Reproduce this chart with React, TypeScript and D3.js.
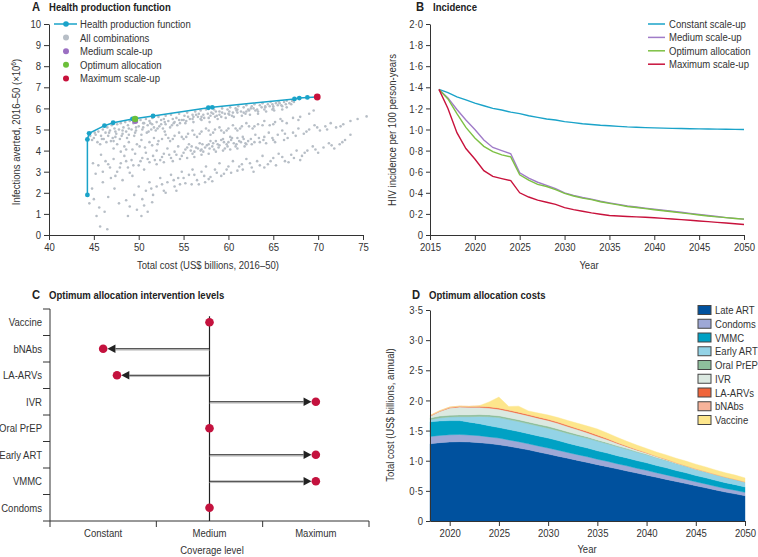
import React, { useEffect, useRef } from "react";
import * as d3 from "d3";

const FONT = "'Liberation Sans', Arial, sans-serif";
const INK = "#333333";
const SX = 0.83; // the journal face is narrow: squeeze glyphs horizontally
const FS = 11.5;

// ---------- A: health production function ----------
const frontierCost = [44.28, 44.28, 44.47, 46.18, 47.15, 49.3, 51.6, 57.76, 58.2, 67.36, 67.9, 68.8, 69.9];
const frontierAverted = [1.9, 4.53, 4.82, 5.18, 5.32, 5.5, 5.64, 6.03, 6.05, 6.45, 6.49, 6.52, 6.54];
const mediumPoint = [49.6, 5.4];
const optimumPoint = [49.6, 5.5];
const maximumPoint = [69.9, 6.54];
const costTicks = [40, 45, 50, 55, 60, 65, 70, 75];
const avertedTicks = [0, 1, 2, 3, 4, 5, 6, 7, 8, 9, 10];
const legendA = ["Health production function", "All combinations", "Medium scale-up", "Optimum allocation", "Maximum scale-up"];

// every scenario (cost, infections averted)
const allCombinations: [number, number][] = [
  [44.6,4.7],[44.8,4.5],[45.0,4.6],[45.2,4.75],[45.4,4.4],[45.5,4.9],[45.8,4.7],[46.0,5.0],[46.1,4.55],[46.3,4.85],
  [46.5,5.1],[46.6,4.7],[46.8,4.95],[47.0,5.2],[47.1,4.6],[47.3,5.05],[47.5,4.8],[47.6,5.25],[47.8,5.0],[48.0,5.3],
  [48.1,4.7],[48.3,5.1],[48.5,5.35],[48.6,4.9],[48.8,5.2],[49.0,5.4],[49.2,5.0],[49.4,5.3],[49.6,4.85],[49.8,5.35],
  [50.0,5.15],[50.2,5.45],[50.4,5.0],[50.6,5.3],[50.8,5.5],[51.0,5.2],[51.2,5.4],[51.5,5.55],[51.7,5.1],[52.0,5.35],
  [52.2,5.6],[52.5,5.25],[52.8,5.5],[53.0,5.65],[53.3,5.4],[53.6,5.7],[53.9,5.3],[54.2,5.55],[54.5,5.75],[54.8,5.45],
  [55.1,5.65],[55.4,5.8],[55.7,5.5],[56.0,5.7],[56.3,5.85],[56.6,5.6],[56.9,5.9],[57.2,5.7],[57.5,5.95],[57.8,5.55],
  [58.1,5.8],[58.4,5.95],[58.7,5.65],[59.0,5.85],[59.3,6.0],[59.6,5.75],[59.9,5.95],[60.2,6.05],[60.5,5.8],[60.8,6.0],
  [61.1,6.1],[61.4,5.85],[61.7,6.05],[62.0,6.15],[62.3,5.9],[62.6,6.1],[62.9,6.2],[63.2,5.95],[63.5,6.15],[63.8,6.25],
  [64.1,6.05],[64.4,6.2],[64.7,6.3],[65.0,6.1],[65.3,6.25],[65.6,6.33],[65.9,6.15],[66.2,6.3],[66.5,6.36],[66.8,6.25],[67.1,6.35],
  [45.7,4.3],[46.4,4.4],[47.2,4.45],[47.9,4.55],[48.7,4.6],[49.5,4.7],[50.3,4.75],[51.1,4.9],[51.9,4.95],[52.7,5.05],
  [53.5,5.1],[54.3,5.2],[55.2,5.3],[56.1,5.35],[57.0,5.45],[57.9,5.35],[58.8,5.5],[59.7,5.55],[60.6,5.6],[61.5,5.65],
  [62.4,5.7],[63.3,5.75],[64.2,5.85],[65.1,5.9],[66.0,5.95],[53.0,5.25],[54.0,5.35],[55.0,5.45],[56.0,5.5],[57.0,5.6],
  [58.0,5.65],[59.0,5.7],[60.0,5.75],[61.0,5.8],[62.0,5.85],[63.0,5.9],[64.0,5.95],[65.0,6.0],[66.0,6.1],[67.0,6.2],
  [50.5,5.3],[51.5,5.25],[52.5,5.45],
  [46.9,4.45],[47.4,4.9],[48.2,4.95],[48.9,4.75],[49.7,5.1],[50.9,4.85],[51.4,5.0],[52.3,5.15],[52.9,4.9],[53.8,5.5],
  [54.6,5.3],[55.5,5.6],[56.4,5.7],[57.3,5.55],[58.3,5.75],[59.2,5.6],[60.1,5.85],[61.0,5.95],[61.9,5.75],[62.8,6.0],
  [63.7,6.05],[64.6,6.1],[65.5,6.15],[66.4,6.2],[67.3,6.3],[60.4,5.65],[62.2,5.95],[64.9,6.2],[58.6,5.85],[56.7,5.75],
  [45.1,4.85],[45.9,4.55],[46.7,4.85],[47.4,4.65],[48.2,4.8],[48.9,5.05],[49.7,4.95],[50.5,5.1],[51.3,5.3],[52.1,5.05],
  [52.9,5.35],[53.7,5.2],[54.5,5.45],[55.3,5.4],[56.1,5.6],[56.9,5.5],[57.7,5.75],[58.5,5.6],[59.3,5.8],[60.1,5.7],
  [60.9,5.9],[61.7,5.8],[62.5,6.0],[63.3,5.85],[64.1,6.1],[64.9,5.95],[65.7,6.25],[66.5,6.05],[67.3,6.38],
  [47.2,4.1],[47.6,4.3],[48.0,3.95],[48.4,4.2],[48.9,4.4],[49.3,4.05],[49.8,4.3],[50.3,4.5],[50.7,4.15],[51.2,4.4],
  [51.7,4.6],[52.1,4.3],[52.6,4.55],[53.0,4.75],[53.5,4.45],[54.0,4.7],[54.5,4.85],[55.0,4.55],[55.5,4.8],[56.0,4.95],
  [56.5,4.65],[57.0,4.9],[57.5,5.05],[58.0,4.75],[58.5,5.0],[59.0,5.1],[59.5,4.85],[60.0,5.05],[60.5,5.2],[61.0,4.95],
  [61.5,5.15],[62.0,5.3],[62.7,5.05],[63.3,5.25],[64.0,5.4],[64.6,5.2],[65.2,5.35],[65.8,5.5],[66.5,5.3],[67.2,5.55],
  [68.0,5.6],[69.0,5.75],[69.5,5.9],
  [48.6,4.05],[50.1,4.2],[51.5,4.25],[53.3,4.6],[54.8,4.65],[56.2,4.75],[57.8,4.95],[59.2,4.95],[60.8,5.05],[62.3,5.15],
  [63.8,5.2],[65.0,5.25],[66.0,5.4],[67.8,5.45],[52.2,4.45],[53.8,4.55],[55.3,4.65],[56.8,4.8],[58.3,4.85],[59.8,4.95],
  [61.3,5.05],[62.9,5.15],
  [45.5,3.3],[46.0,3.0],[46.3,3.5],[46.8,3.2],[47.2,3.6],[47.6,3.0],[48.0,3.4],[48.4,3.75],[48.8,3.2],[49.2,3.55],
  [49.6,3.85],[50.0,3.3],[50.4,3.65],[50.8,3.9],[51.2,3.45],[51.6,3.75],[52.0,4.0],[52.4,3.55],[52.8,3.85],[53.2,4.1],
  [53.6,3.65],[54.0,3.95],[54.4,4.2],[54.8,3.75],[55.2,4.05],[55.6,4.3],[56.0,3.85],[56.4,4.15],[56.8,4.35],[57.2,3.95],
  [57.6,4.25],[58.0,4.45],[58.4,4.05],[58.8,4.3],[59.2,4.5],[59.6,4.1],[60.0,4.4],[60.4,4.6],[60.8,4.2],[61.2,4.45],
  [61.6,4.65],[62.0,4.3],[62.5,4.55],[63.0,4.75],[63.5,4.4],[64.0,4.65],[64.5,4.85],[65.0,4.5],[65.5,4.75],[66.0,4.95],
  [66.6,4.6],[67.2,4.85],[67.8,5.05],[68.4,4.8],[69.0,5.0],[69.6,5.2],[70.2,4.95],[70.8,5.15],[71.4,5.3],[72.0,5.1],
  [72.8,5.25],[73.6,5.4],[74.4,5.5],[75.4,5.62],
  [55.0,3.9],[55.8,4.0],[56.6,4.1],[57.4,4.15],[58.2,4.2],[59.0,4.25],[59.8,4.3],[60.6,4.35],[61.4,4.4],[62.2,4.45],
  [56.2,3.7],[57.0,3.8],[57.8,3.85],[58.6,3.95],[59.4,4.0],[60.2,4.05],[61.0,4.1],
  [46.6,3.35],[47.9,3.2],[48.6,3.5],[49.4,3.3],[50.2,3.5],[51.0,3.6],[51.8,3.55],[52.6,3.7],[53.4,3.8],[54.2,3.8],
  [55.4,4.15],[56.9,4.0],[57.9,4.1],[58.9,4.15],[59.9,4.2],[60.9,4.3],[61.9,4.35],[62.9,4.4],[63.9,4.5],[64.9,4.6],
  [66.3,4.8],[67.5,4.7],[68.7,4.9],[69.9,5.1],[71.0,5.0],[72.5,5.15],[55.9,4.2],[57.1,4.3],[58.3,4.35],[59.5,4.4],
  [60.3,4.5],[61.7,4.55],
  [53.8,3.5],[54.6,3.6],[55.4,3.65],[56.2,3.95],[57.0,4.05],[57.8,4.3],[58.6,4.45],[59.4,4.55],[60.2,4.65],[61.0,4.6],
  [61.8,4.2],[62.6,4.3],[63.4,4.6],[64.2,4.35],[65.2,4.4],[66.2,4.5],[52.0,3.35],[52.8,3.45],[50.6,3.1],[49.0,2.95],[47.4,2.8],
  [49.5,1.9],[50.0,2.3],[50.4,1.7],[50.8,2.1],[51.2,2.5],[51.6,1.9],[52.0,2.3],[52.4,2.7],[52.8,2.1],[53.2,2.5],
  [53.6,2.85],[54.0,2.3],[54.4,2.7],[54.8,3.0],[55.2,2.45],[55.6,2.85],[56.0,3.1],[56.5,2.6],[57.0,3.0],[57.5,3.25],
  [58.0,2.75],[58.5,3.1],[59.0,3.4],[59.5,2.9],[60.0,3.25],[60.5,3.5],[61.0,3.05],[61.5,3.35],[62.0,3.6],[62.6,3.2],
  [63.2,3.5],[63.8,3.75],[64.4,3.35],[65.0,3.65],[65.6,3.85],[66.3,3.5],[67.0,3.8],[67.6,4.0],[68.2,3.75],[68.8,4.0],
  [69.4,4.2],[70.0,3.9],[70.6,4.15],[71.2,4.35],[71.8,4.1],[72.4,4.3],[73.0,4.5],[73.6,4.75],
  [51.4,2.2],[52.6,2.4],[53.9,2.6],[55.0,2.7],[56.2,2.85],[57.3,2.8],[58.7,2.95],[59.8,3.1],[61.2,3.25],[62.4,3.4],
  [63.5,3.3],[64.7,3.5],[66.0,3.7],[67.3,3.65],[68.5,3.9],[69.7,4.05],[71.5,4.25],[72.7,4.4],[53.0,2.0],[54.6,2.4],
  [56.7,2.4],[58.2,2.55],[55.9,2.4],[57.8,2.65],[59.2,2.8],[60.3,2.95],[61.6,3.1],[62.8,3.0],[64.0,3.2],[65.3,3.3],
  [66.7,3.45],[68.0,3.55],[57.4,2.5],[54.2,2.1],
  [44.5,1.5],[44.8,2.2],[45.0,1.7],[45.3,0.9],[45.6,1.3],[45.7,0.4],[46.0,2.5],[46.2,1.1],[46.5,0.27],[46.6,1.8],
  [46.9,2.7],[47.3,2.2],[47.8,1.5],[48.2,2.6],[48.6,1.65],[48.8,0.9],[49.0,1.35],[49.3,2.8],[49.8,1.2],[50.3,0.9],
  [50.6,1.4],[51.0,1.1],[51.5,1.55],[45.2,2.9],[45.8,3.8],[44.9,3.4],
];

// ---------- B: incidence ----------
const incidenceYears = [2016,2017,2018,2019,2020,2021,2022,2023,2024,2025,2026,2027,2028,2029,2030,2031,2032,2033,2034,2035,2036,2037,2038,2039,2040,2041,2042,2043,2044,2045,2046,2047,2048,2049,2050];
const constantIncidence = [1.38,1.35,1.31,1.28,1.25,1.225,1.2,1.185,1.165,1.15,1.13,1.115,1.1,1.09,1.075,1.065,1.055,1.048,1.04,1.035,1.03,1.025,1.022,1.018,1.015,1.013,1.011,1.009,1.007,1.006,1.005,1.004,1.003,1.001,1.0];
const mediumIncidence = [1.38,1.30,1.19,1.09,1.0,0.9,0.83,0.8,0.77,0.59,0.54,0.5,0.47,0.44,0.4,0.375,0.355,0.34,0.32,0.305,0.29,0.275,0.265,0.255,0.245,0.235,0.225,0.215,0.205,0.195,0.185,0.175,0.165,0.158,0.15];
const optimumIncidence = [1.38,1.29,1.15,1.02,0.92,0.84,0.79,0.76,0.74,0.57,0.52,0.48,0.46,0.43,0.395,0.37,0.35,0.335,0.315,0.3,0.285,0.27,0.26,0.25,0.24,0.23,0.22,0.21,0.2,0.19,0.18,0.172,0.165,0.157,0.15];
const maximumIncidence = [1.38,1.2,0.97,0.82,0.72,0.61,0.555,0.535,0.515,0.40,0.36,0.33,0.31,0.29,0.26,0.24,0.225,0.21,0.197,0.185,0.18,0.176,0.172,0.168,0.163,0.158,0.152,0.146,0.14,0.133,0.127,0.12,0.114,0.107,0.1];
const yearTicksB = [2015, 2020, 2025, 2030, 2035, 2040, 2045, 2050];
const incidenceTicks = [0, 0.2, 0.4, 0.6, 0.8, 1.0, 1.2, 1.4, 1.6, 1.8, 2.0];
const scenarioNames = ["Constant scale-up", "Medium scale-up", "Optimum allocation", "Maximum scale-up"];
const scenarioColors = ["#1aa3c9", "#a07cc8", "#7dc043", "#c8123c"];

// ---------- C: intervention levels ----------
const interventions = ["Vaccine", "bNAbs", "LA-ARVs", "IVR", "Oral PrEP", "Early ART", "VMMC", "Condoms"];
const optimumLevel = [1, 0, 0.13, 2, 1, 2, 2, 1]; // 0 constant, 1 medium, 2 maximum
const coverageLabels = ["Constant", "Medium", "Maximum"];

// ---------- D: optimum allocation costs ----------
const costYears = [2018,2019,2020,2021,2022,2023,2024,2025,2026,2027,2028,2029,2030,2031,2032,2033,2034,2035,2036,2037,2038,2039,2040,2041,2042,2043,2044,2045,2046,2047,2048,2049,2050];
const lateArt = [1.28,1.30,1.31,1.315,1.31,1.30,1.285,1.265,1.24,1.21,1.18,1.145,1.11,1.075,1.04,1.005,0.97,0.935,0.9,0.865,0.83,0.795,0.76,0.725,0.69,0.655,0.62,0.585,0.55,0.515,0.48,0.45,0.42];
const condoms = [0.12,0.12,0.12,0.12,0.115,0.115,0.11,0.11,0.105,0.105,0.1,0.1,0.1,0.1,0.095,0.095,0.095,0.09,0.09,0.085,0.085,0.08,0.08,0.075,0.075,0.07,0.07,0.065,0.065,0.06,0.06,0.06,0.055];
const vmmc = [0.245,0.24,0.235,0.23,0.215,0.2,0.185,0.175,0.172,0.17,0.168,0.166,0.165,0.16,0.155,0.15,0.145,0.14,0.137,0.134,0.131,0.128,0.125,0.121,0.117,0.113,0.109,0.105,0.102,0.099,0.096,0.093,0.09];
const earlyArt = [0.035,0.05,0.06,0.065,0.09,0.12,0.15,0.165,0.165,0.165,0.165,0.165,0.165,0.164,0.163,0.162,0.161,0.16,0.155,0.15,0.145,0.14,0.135,0.128,0.121,0.114,0.107,0.1,0.096,0.092,0.088,0.084,0.08];
const oralPrep = [0.03,0.03,0.03,0.03,0.03,0.03,0.03,0.03,0.03,0.03,0.03,0.03,0.03,0.028,0.026,0.024,0.022,0.02,0.018,0.015,0.012,0.01,0.008,0.006,0.004,0.002,0.001,0,0,0,0,0,0];
const ivr = [0.03,0.08,0.12,0.13,0.125,0.12,0.115,0.11,0.108,0.105,0.103,0.1,0.098,0.094,0.088,0.08,0.07,0.06,0.05,0.04,0.03,0.025,0.02,0.017,0.015,0.013,0.011,0.01,0.009,0.008,0.007,0.006,0.005];
const laArvs = [0,0,0.005,0.01,0.015,0.018,0.02,0.02,0.02,0.02,0.02,0.02,0.02,0.02,0.02,0.02,0.022,0.022,0.02,0.015,0.01,0.007,0.005,0.003,0.002,0,0,0,0,0,0,0,0];
const bnabs = [0.01,0.01,0.01,0.005,0,0,0,0,0,0,0,0,0,0,0,0,0,0,0,0,0,0,0,0,0,0,0,0,0,0,0,0,0];
const vaccine = [0,0,0,0,0,0.01,0.08,0.18,0.06,0.1,0.06,0.065,0.07,0.075,0.08,0.085,0.09,0.1,0.09,0.085,0.08,0.075,0.07,0.07,0.072,0.074,0.076,0.078,0.075,0.072,0.07,0.068,0.065];
const costSeries = [lateArt, condoms, vmmc, earlyArt, oralPrep, ivr, laArvs, bnabs, vaccine];
const costNames = ["Late ART", "Condoms", "VMMC", "Early ART", "Oral PrEP", "IVR", "LA-ARVs", "bNAbs", "Vaccine"];
const costColors = ["#00519e", "#9ea8d6", "#00a1c4", "#93d3e6", "#8ebf9c", "#dbe9e1", "#f0643a", "#f7b39a", "#fde68c"];
const yearTicksD = [2020, 2025, 2030, 2035, 2040, 2045, 2050];
const costTicksD = [0, 0.5, 1.0, 1.5, 2.0, 2.5, 3.0, 3.5];

const dotFmt = (d: number) => (d === 0 ? "0" : d3.format(".1f")(d).replace(".", "·"));

// text squeezed to the narrow face; rot turns it for y titles
function label(parent: any, x: number, y: number, s: string, anchor = "start", opts: any = {}) {
  const rot = opts.rotate ? " rotate(-90)" : "";
  return parent.append("text")
    .attr("transform", `translate(${x},${y})${rot} scale(${SX},1)`)
    .attr("text-anchor", anchor)
    .attr("dy", opts.dy || null)
    .attr("font-size", opts.size || FS)
    .attr("font-weight", opts.weight || "normal")
    .attr("fill", opts.fill || INK)
    .text(s);
}

function styleAxis(g: any) {
  g.attr("font-family", FONT).attr("font-size", FS);
  g.select(".domain").attr("stroke", INK);
  g.selectAll(".tick line").attr("stroke", INK);
  g.selectAll(".tick text").attr("fill", INK).each(function (this: any) {
    const t = d3.select(this);
    const tx = +t.attr("x") || 0;
    t.attr("x", 0).attr("transform", `translate(${tx},0) scale(${SX},1)`);
  });
}

function title(svg: any, x: number, y: number, letter: string, text: string) {
  label(svg, x, y, letter, "start", { size: 13.5, weight: "bold", fill: "#222" });
  label(svg, x + 17, y, text, "start", { weight: "bold", fill: "#222" });
}

function drawA(svg: any) {
  const x = d3.scaleLinear().domain([40, 75]).range([49, 363]);
  const y = d3.scaleLinear().domain([0, 10]).range([235, 24]);
  title(svg, 32, 11, "A", "Health production function");

  svg.append("g").attr("transform", "translate(0,235)")
    .call(d3.axisBottom(x).tickValues(costTicks).tickSize(5).tickPadding(3).tickSizeOuter(0)).call(styleAxis);
  svg.append("g").attr("transform", "translate(49,0)")
    .call(d3.axisLeft(y).tickValues(avertedTicks).tickSize(5).tickPadding(3).tickSizeOuter(0)).call(styleAxis);

  svg.append("g").selectAll("circle").data(allCombinations).enter().append("circle")
    .attr("cx", (d: number[]) => x(d[0])).attr("cy", (d: number[]) => y(d[1])).attr("r", 1.3).attr("fill", "#b7bec6");

  const frontier = frontierCost.map((c, i) => [c, frontierAverted[i]]);
  svg.append("path").datum(frontier)
    .attr("d", d3.line<number[]>().x(d => x(d[0])).y(d => y(d[1])))
    .attr("fill", "none").attr("stroke", "#1aa3c9").attr("stroke-width", 1.5);
  svg.append("g").selectAll("circle").data(frontier).enter().append("circle")
    .attr("cx", (d: number[]) => x(d[0])).attr("cy", (d: number[]) => y(d[1])).attr("r", 2.4).attr("fill", "#1aa3c9");

  const specials: [number[], string, number][] = [
    [mediumPoint, "#9b6fc2", 3], [optimumPoint, "#6cbf3a", 3.2], [maximumPoint, "#c8123c", 3.4],
  ];
  specials.forEach(([p, c, r]) => {
    svg.append("circle").attr("cx", x(p[0])).attr("cy", y(p[1])).attr("r", r).attr("fill", c);
  });

  const legendColors = ["#1aa3c9", "#b7bec6", "#9b6fc2", "#6cbf3a", "#c8123c"];
  legendA.forEach((name, i) => {
    const ly = 24 + i * 13.6;
    if (i === 0) svg.append("line").attr("x1", 54).attr("x2", 77).attr("y1", ly).attr("y2", ly).attr("stroke", legendColors[0]).attr("stroke-width", 1.5);
    svg.append("circle").attr("cx", 66).attr("cy", ly).attr("r", i === 0 ? 2.8 : 3).attr("fill", legendColors[i]);
    label(svg, 80, ly, name, "start", { dy: "0.35em" });
  });

  const yt = svg.append("text").attr("transform", `translate(20,132) rotate(-90) scale(${SX},1)`).attr("text-anchor", "middle")
    .attr("font-size", FS).attr("fill", INK);
  yt.append("tspan").text("Infections averted, 2016–50 (×10");
  yt.append("tspan").attr("dy", -4).attr("font-size", 8).text("6");
  yt.append("tspan").attr("dy", 4).text(")");
  label(svg, 208, 269, "Total cost (US$ billions, 2016–50)", "middle");
}

function drawB(svg: any) {
  const x = d3.scaleLinear().domain([2015, 2050]).range([430, 744]);
  const y = d3.scaleLinear().domain([0, 2]).range([235, 24]);
  title(svg, 416, 11, "B", "Incidence");

  svg.append("g").attr("transform", "translate(0,235)")
    .call(d3.axisBottom(x).tickValues(yearTicksB).tickFormat(d3.format("d")).tickSize(5).tickPadding(3).tickSizeOuter(0)).call(styleAxis);
  svg.append("g").attr("transform", "translate(430,0)")
    .call(d3.axisLeft(y).tickValues(incidenceTicks).tickFormat(dotFmt).tickSize(4).tickPadding(3).tickSizeOuter(0)).call(styleAxis);

  const series = [constantIncidence, mediumIncidence, optimumIncidence, maximumIncidence];
  const line = d3.line<number>().x((_, i) => x(incidenceYears[i])).y(d => y(d));
  series.forEach((s, k) => {
    svg.append("path").datum(s).attr("d", line).attr("fill", "none").attr("stroke", scenarioColors[k]).attr("stroke-width", 1.4);
  });

  scenarioNames.forEach((name, i) => {
    const ly = 24 + i * 13.4;
    svg.append("line").attr("x1", 648).attr("x2", 665).attr("y1", ly).attr("y2", ly).attr("stroke", scenarioColors[i]).attr("stroke-width", 1.5);
    label(svg, 669, ly, name, "start", { dy: "0.35em" });
  });

  label(svg, 396, 130, "HIV incidence per 100 person-years", "middle", { rotate: true });
  label(svg, 589, 269, "Year", "middle");
}

function drawC(svg: any) {
  const x = d3.scaleLinear().domain([-0.5, 2.5]).range([50, 369]);
  const y = d3.scaleBand<string>().domain(interventions).range([309, 521]);
  const bottom = 521;
  title(svg, 32, 299, "C", "Optimum allocation intervention levels");

  const ax = svg.append("g").attr("stroke", INK);
  ax.append("line").attr("x1", 50).attr("x2", 50).attr("y1", 309).attr("y2", bottom);
  ax.append("line").attr("x1", 50).attr("x2", 369).attr("y1", bottom).attr("y2", bottom);
  d3.range(interventions.length + 1).forEach(i => {
    const ty = 309 + i * y.step();
    ax.append("line").attr("x1", 43).attr("x2", 50).attr("y1", ty).attr("y2", ty);
  });
  [-0.5, 0.5, 1.5, 2.5].forEach(v => {
    ax.append("line").attr("x1", x(v)).attr("x2", x(v)).attr("y1", bottom).attr("y2", bottom + 6);
  });

  const cy = (name: string) => (y(name) as number) + y.bandwidth() / 2;
  interventions.forEach(name => label(svg, 42, cy(name), name, "end", { dy: "0.35em" }));
  coverageLabels.forEach((name, i) => label(svg, x(i), 537, name, "middle"));
  label(svg, 212, 554, "Coverage level", "middle");

  svg.append("line").attr("x1", x(1)).attr("x2", x(1)).attr("y1", cy(interventions[0]) - 6).attr("y2", bottom)
    .attr("stroke", "#222").attr("stroke-width", 1.2);

  const r = 4.3, head = 8;
  interventions.forEach((name, i) => {
    const lv = optimumLevel[i];
    const yy = cy(name);
    if (lv !== 1) {
      const dir = lv > 1 ? 1 : -1;
      const tip = x(lv) - dir * r;
      const base = tip - dir * head;
      svg.append("line").attr("x1", x(1)).attr("x2", base).attr("y1", yy + 1.3).attr("y2", yy + 1.3).attr("stroke", "#b8b8b8").attr("stroke-width", 1);
      svg.append("line").attr("x1", x(1)).attr("x2", base).attr("y1", yy).attr("y2", yy).attr("stroke", "#222").attr("stroke-width", 1);
      svg.append("path").attr("d", `M${tip},${yy}L${base},${yy - 4.3}L${base},${yy + 4.3}Z`).attr("fill", "#222");
    }
    svg.append("circle").attr("cx", x(lv)).attr("cy", yy).attr("r", r).attr("fill", "#c4123e");
  });
}

function drawD(svg: any) {
  const x = d3.scaleLinear().domain([2018, 2050]).range([430, 745]);
  const y = d3.scaleLinear().domain([0, 3.5]).range([521, 310]);
  title(svg, 412, 299, "D", "Optimum allocation costs");

  const rows = costYears.map((yr, i) => {
    const row: any = { year: yr };
    costNames.forEach((n, k) => { row[n] = costSeries[k][i]; });
    return row;
  });
  const stacked = d3.stack().keys(costNames)(rows);
  const area = d3.area<any>().x(d => x(d.data.year)).y0(d => y(d[0])).y1(d => y(d[1]));
  stacked.forEach((layer, k) => {
    svg.append("path").datum(layer).attr("d", area).attr("fill", costColors[k]).attr("stroke", costColors[k]).attr("stroke-width", 0.4);
  });

  svg.append("g").attr("transform", "translate(0,521)")
    .call(d3.axisBottom(x).tickValues(yearTicksD).tickFormat(d3.format("d")).tickSize(5).tickPadding(3).tickSizeOuter(0)).call(styleAxis);
  svg.append("g").attr("transform", "translate(430,0)")
    .call(d3.axisLeft(y).tickValues(costTicksD).tickFormat(dotFmt).tickSize(4).tickPadding(3).tickSizeOuter(0)).call(styleAxis);

  costNames.forEach((name, i) => {
    const ly = 310 + i * 13.75;
    svg.append("rect").attr("x", 698).attr("y", ly - 4.5).attr("width", 13).attr("height", 9)
      .attr("fill", costColors[i]).attr("stroke", "#444").attr("stroke-width", 1);
    label(svg, 715, ly, name, "start", { dy: "0.35em" });
  });

  label(svg, 394, 415, "Total cost (US$ billions, annual)", "middle", { rotate: true });
  label(svg, 587, 553, "Year", "middle");
}

export default function App() {
  const ref = useRef<SVGSVGElement>(null);

  useEffect(() => {
    const svg = d3.select(ref.current);
    svg.selectAll("*").remove();
    svg.attr("font-family", FONT);
    drawA(svg);
    drawB(svg);
    drawC(svg);
    drawD(svg);
  }, []);

  return (
    <svg ref={ref} width={758} height={557}
      style={{ position: "absolute", left: 0, top: 0, background: "#ffffff" }} />
  );
}
